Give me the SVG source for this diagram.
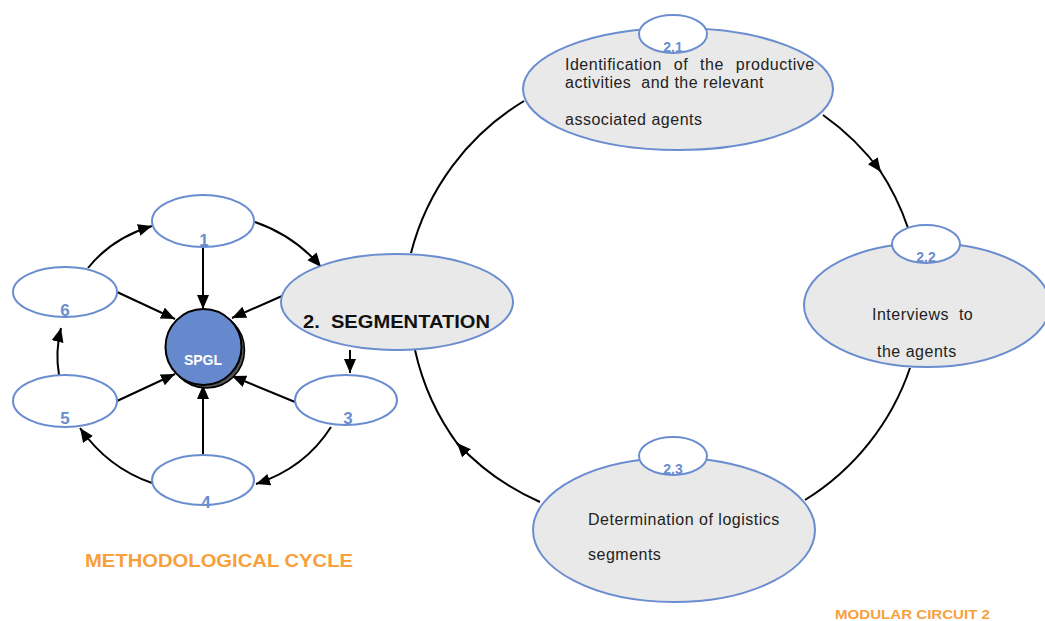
<svg xmlns="http://www.w3.org/2000/svg" width="1045" height="621" viewBox="0 0 1045 621">
<style>
.nd{fill:#ffffff;stroke:#6a8dd0;stroke-width:2}
.gr{fill:#e9e9e9;stroke:#6a8dd0;stroke-width:2}
.num{font-family:"Liberation Sans",Arial,sans-serif;font-weight:bold;font-size:17px;fill:#6a8dd0;text-anchor:middle}
.sub{font-family:"Liberation Sans",Arial,sans-serif;font-weight:bold;font-size:14px;fill:#6a8dd0;text-anchor:middle}
.txt{font-family:"Liberation Sans",Arial,sans-serif;font-size:16px;letter-spacing:0.5px;fill:#222222}
.ln{fill:none;stroke:#000000;stroke-width:2}
.ttl{font-family:"Liberation Sans",Arial,sans-serif;font-weight:bold;fill:#f7a03c}
</style>
<defs>
<marker id="ah" markerUnits="userSpaceOnUse" markerWidth="16" markerHeight="14" refX="14" refY="6" orient="auto">
<path d="M0,0 L14,6 L0,12 Z" fill="#000"/>
</marker>
<clipPath id="c21"><ellipse cx="673" cy="34" rx="34" ry="19"/></clipPath>
<clipPath id="c22"><ellipse cx="926" cy="244" rx="34" ry="19"/></clipPath>
<clipPath id="c23"><ellipse cx="673" cy="456" rx="34" ry="19"/></clipPath>
</defs>

<g id="connectors">
<path class="ln" d="M203,247 L203,309" marker-end="url(#ah)"/>
<path class="ln" d="M117,292 L175,319" marker-end="url(#ah)"/>
<path class="ln" d="M117,401 L175,374" marker-end="url(#ah)"/>
<path class="ln" d="M203,455 L203,385" marker-end="url(#ah)"/>
<path class="ln" d="M295,402 L232,376" marker-end="url(#ah)"/>
<path class="ln" d="M282,296 L232,318" marker-end="url(#ah)"/>
<path class="ln" d="M350,350 L350,373" marker-end="url(#ah)"/>
<path class="ln" d="M255,222 Q295,236 321,267" marker-end="url(#ah)"/>
<path class="ln" d="M88,268 Q112,238 152,226" marker-end="url(#ah)"/>
<path class="ln" d="M59,375 Q55,352 61,328" marker-end="url(#ah)"/>
<path class="ln" d="M152,483 Q108,468 80,428" marker-end="url(#ah)"/>
<path class="ln" d="M331,427 Q305,468 256,484" marker-end="url(#ah)"/>
<path class="ln" d="M524,101 A250,250 0 0 0 411,253"/>
<path class="ln" d="M823,115 A250,250 0 0 1 881,172" marker-end="url(#ah)"/>
<path class="ln" d="M879,169 A250,250 0 0 1 908,228"/>
<path class="ln" d="M910,368 A250,250 0 0 1 805,500"/>
<path class="ln" d="M540,502 A250,250 0 0 1 457,443" marker-end="url(#ah)"/>
<path class="ln" d="M459,446 A250,250 0 0 1 415,350"/>
</g>

<g id="n1"><ellipse class="nd" cx="203" cy="221" rx="51" ry="26"/><text class="num" x="204" y="246">1</text></g>
<g id="n6"><ellipse class="nd" cx="65" cy="292" rx="52" ry="25"/><text class="num" x="65" y="316">6</text></g>
<g id="n5"><ellipse class="nd" cx="65" cy="401" rx="52" ry="26"/><text class="num" x="65" y="424">5</text></g>
<g id="n4"><ellipse class="nd" cx="203" cy="480" rx="51" ry="25"/><text class="num" x="206" y="508">4</text></g>
<g id="n3"><ellipse class="nd" cx="346" cy="400" rx="51" ry="25"/><text class="num" x="348" y="424">3</text></g>

<g id="spgl">
<circle cx="206.5" cy="350" r="38" fill="#555555" stroke="#000" stroke-width="1.5"/>
<circle cx="203.5" cy="347" r="38" fill="#6688cc" stroke="#000" stroke-width="2"/>
<text x="203" y="365" font-family="Liberation Sans, Arial, sans-serif" font-weight="bold" font-size="14" fill="#ffffff" text-anchor="middle">SPGL</text>
</g>

<g id="n2">
<ellipse class="gr" cx="397" cy="302" rx="116" ry="48"/>
<text x="303" y="328" font-family="Liberation Sans, Arial, sans-serif" font-weight="bold" font-size="19" fill="#111" textLength="187" lengthAdjust="spacingAndGlyphs" xml:space="preserve">2.  SEGMENTATION</text>
</g>

<g id="n21">
<ellipse class="gr" cx="678" cy="89" rx="155" ry="61"/>
<ellipse class="nd" cx="673" cy="34" rx="34" ry="19"/>
<text class="sub" x="673" y="52" clip-path="url(#c21)">2.1</text>
<text class="txt" x="565" y="70" word-spacing="7">Identification of the productive</text>
<text class="txt" x="565" y="88" xml:space="preserve">activities  and the relevant</text>
<text class="txt" x="565" y="125">associated agents</text>
</g>

<g id="n22">
<ellipse class="gr" cx="927" cy="305" rx="123" ry="62"/>
<ellipse class="nd" cx="926" cy="244" rx="34" ry="19"/>
<text class="sub" x="926" y="262" clip-path="url(#c22)">2.2</text>
<text class="txt" x="872" y="320" xml:space="preserve">Interviews  to</text>
<text class="txt" x="877" y="357">the agents</text>
</g>

<g id="n23">
<ellipse class="gr" cx="674" cy="530" rx="141" ry="72"/>
<ellipse class="nd" cx="673" cy="456" rx="34" ry="19"/>
<text class="sub" x="673" y="474" clip-path="url(#c23)">2.3</text>
<text class="txt" x="588" y="525">Determination of logistics</text>
<text class="txt" x="588" y="560">segments</text>
</g>

<text class="ttl" x="85" y="567" font-size="18" textLength="268" lengthAdjust="spacingAndGlyphs">METHODOLOGICAL CYCLE</text>
<text class="ttl" x="835" y="619" font-size="13" textLength="155" lengthAdjust="spacingAndGlyphs">MODULAR CIRCUIT 2</text>
</svg>
